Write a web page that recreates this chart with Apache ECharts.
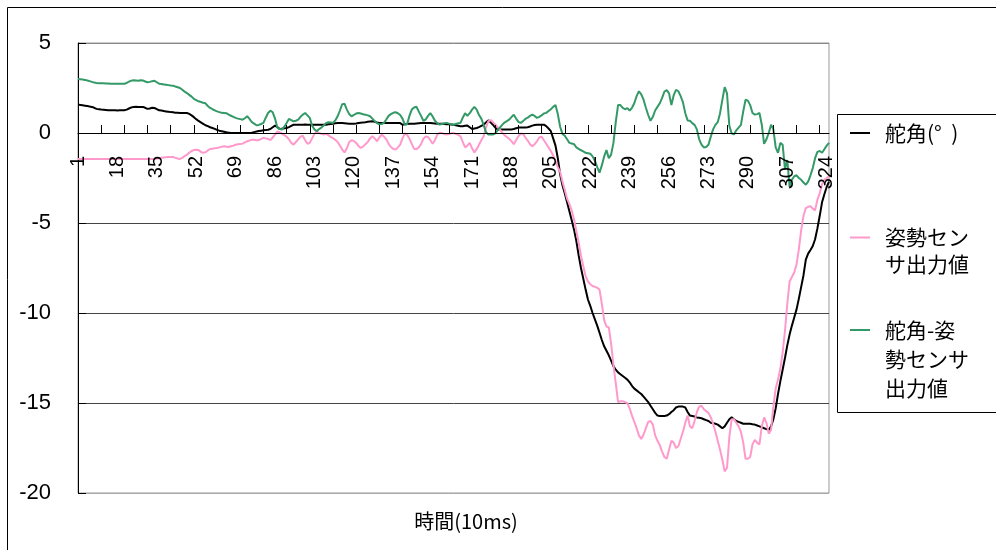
<!DOCTYPE html>
<html><head><meta charset="utf-8">
<script src="https://cdn.jsdelivr.net/npm/echarts@6/dist/echarts.min.js"></script>
<style>html,body{margin:0;padding:0;background:#fff}#c{width:996px;height:550px}</style>
</head><body><div id="c"></div>
<script>
// categories: sample number 1..325 (time axis, unit 10ms)
const categories = Array.from({length: 325}, (_, i) => String(i + 1));
const seriesNames = ['舵角(°  )', '姿勢センサ出力値', '舵角-姿勢センサ出力値'];
const legendLabels = ['舵角(°  )', '姿勢セン\nサ出力値', '舵角-姿\n勢センサ\n出力値'];
const yTicks = [-20, -15, -10, -5, 0, 5];
const xAxisTitle = '時間(10ms)';

const rudder = [
1.58,1.56,1.54,1.52,1.50,1.47,1.45,1.40,1.34,1.32,
1.30,1.29,1.28,1.27,1.26,1.26,1.26,1.25,1.26,1.26,
1.26,1.30,1.36,1.42,1.45,1.46,1.44,1.45,1.45,1.40,
1.34,1.36,1.40,1.39,1.33,1.26,1.25,1.22,1.20,1.18,
1.16,1.15,1.13,1.12,1.11,1.11,1.11,1.11,1.06,0.98,
0.88,0.77,0.67,0.59,0.51,0.43,0.38,0.32,0.28,0.23,
0.17,0.13,0.10,0.07,0.04,0.02,0,0,0,0,
0,0,0,0,0,0.02,0.05,0.08,0.11,0.13,
0.15,0.16,0.18,0.22,0.32,0.41,0.33,0.22,0.24,0.26,
0.28,0.33,0.40,0.46,0.46,0.46,0.46,0.46,0.47,0.46,
0.46,0.46,0.46,0.46,0.46,0.46,0.46,0.46,0.48,0.50,
0.52,0.54,0.55,0.56,0.55,0.54,0.53,0.52,0.52,0.52,
0.53,0.55,0.57,0.59,0.60,0.62,0.64,0.65,0.62,0.58,
0.56,0.56,0.56,0.56,0.56,0.56,0.56,0.56,0.56,0.55,
0.46,0.48,0.50,0.52,0.52,0.52,0.53,0.54,0.55,0.56,
0.56,0.56,0.55,0.54,0.53,0.52,0.52,0.51,0.50,0.49,
0.48,0.47,0.46,0.43,0.40,0.37,0.38,0.40,0.41,0.32,
0.22,0.25,0.28,0.33,0.40,0.46,0.58,0.70,0.60,0.46,
0.30,0.19,0.19,0.19,0.19,0.19,0.19,0.20,0.22,0.26,
0.30,0.30,0.30,0.30,0.32,0.36,0.41,0.44,0.46,0.46,
0.46,0.46,0.38,0.25,0.10,-0.30,-0.70,-1.40,-2.30,-2.90,
-3.35,-3.85,-4.35,-4.85,-5.37,-6.0,-6.8,-7.5,-8.1,-8.7,
-9.25,-9.6,-10.0,-10.35,-10.7,-11.1,-11.5,-11.85,-12.1,-12.35,
-12.65,-12.95,-13.15,-13.3,-13.4,-13.5,-13.6,-13.7,-13.85,-14.05,
-14.2,-14.3,-14.4,-14.5,-14.65,-14.8,-14.95,-15.15,-15.35,-15.55,
-15.7,-15.72,-15.72,-15.72,-15.7,-15.62,-15.5,-15.4,-15.25,-15.2,
-15.2,-15.2,-15.25,-15.5,-15.7,-15.72,-15.75,-15.8,-15.82,-15.85,
-15.9,-15.95,-16.0,-16.1,-16.12,-16.15,-16.2,-16.3,-16.4,-16.3,
-16.1,-15.9,-15.8,-15.9,-16.0,-16.05,-16.1,-16.15,-16.15,-16.15,
-16.15,-16.18,-16.2,-16.25,-16.3,-16.35,-16.4,-16.45,-16.5,-16.3,
-15.9,-15.3,-14.5,-13.8,-13.15,-12.5,-11.8,-11.2,-10.7,-10.25,
-9.8,-9.2,-8.55,-7.9,-7.04,-6.7,-6.5,-6.28,-5.9,-5.3,
-4.6,-3.85,-3.4,-3.0,-2.7
];

const sensor = [
-1.44,-1.44,-1.44,-1.44,-1.44,-1.44,-1.44,-1.44,-1.44,-1.44,
-1.44,-1.44,-1.44,-1.44,-1.44,-1.44,-1.44,-1.44,-1.44,-1.44,
-1.44,-1.44,-1.44,-1.44,-1.44,-1.44,-1.44,-1.44,-1.44,-1.44,
-1.44,-1.44,-1.44,-1.44,-1.42,-1.40,-1.38,-1.36,-1.35,-1.34,
-1.33,-1.33,-1.38,-1.42,-1.44,-1.38,-1.28,-1.20,-1.10,-1.00,
-0.95,-0.93,-0.95,-1.05,-1.10,-1.07,-0.97,-0.89,-0.87,-0.85,
-0.83,-0.80,-0.76,-0.74,-0.76,-0.78,-0.74,-0.70,-0.65,-0.63,
-0.61,-0.59,-0.52,-0.46,-0.42,-0.38,-0.37,-0.40,-0.40,-0.33,
-0.27,-0.30,-0.33,-0.40,-0.25,-0.09,0.08,0.04,-0.04,-0.12,
-0.20,-0.35,-0.55,-0.65,-0.50,-0.35,-0.20,-0.15,-0.40,-0.60,
-0.55,-0.30,-0.05,0.08,0.00,-0.05,-0.08,-0.05,-0.12,-0.22,
-0.28,-0.38,-0.50,-0.70,-0.92,-1.08,-0.85,-0.50,-0.40,-0.44,
-0.55,-0.72,-0.83,-0.75,-0.62,-0.50,-0.30,-0.18,-0.30,-0.46,
-0.25,-0.09,-0.20,-0.35,-0.60,-0.78,-0.88,-0.92,-0.80,-0.65,
-0.30,-0.02,-0.10,-0.32,-0.60,-0.88,-0.90,-0.80,-0.62,-0.32,
-0.20,-0.22,-0.40,-0.60,-0.40,-0.09,0.02,0.00,-0.06,-0.09,
-0.06,-0.02,0.00,-0.05,-0.10,-0.18,-0.50,-0.80,-0.70,-0.55,
-0.85,-1.08,-0.90,-0.65,-0.40,-0.18,0.30,0.65,0.72,0.60,
0.48,0.33,0.20,0.02,-0.12,-0.22,-0.32,-0.45,-0.62,-0.40,
-0.18,-0.03,-0.05,-0.25,-0.42,-0.62,-0.74,-0.62,-0.46,-0.25,
-0.20,-0.40,-0.60,-0.80,-1.00,-1.25,-1.55,-1.90,-2.15,-2.70,
-3.15,-3.65,-3.95,-4.30,-4.80,-5.45,-6.10,-6.80,-7.40,-7.95,
-8.25,-8.40,-8.50,-8.55,-8.60,-8.70,-9.50,-10.40,-10.75,-10.80,
-11.70,-12.90,-13.90,-14.95,-14.90,-14.90,-14.95,-15.00,-15.30,-15.70,
-16.05,-16.40,-16.80,-17.00,-16.75,-16.40,-16.05,-16.00,-16.20,-16.80,
-17.10,-17.35,-17.70,-18.00,-18.10,-17.60,-17.10,-17.20,-17.50,-17.40,
-17.00,-16.60,-16.10,-15.70,-16.30,-16.40,-16.00,-15.50,-15.20,-15.15,
-15.35,-15.45,-15.55,-15.80,-16.15,-16.60,-17.10,-17.60,-18.15,-18.80,
-18.60,-16.90,-15.90,-15.90,-16.10,-16.30,-16.60,-17.20,-18.10,-18.10,
-18.00,-17.30,-17.05,-17.20,-17.30,-16.30,-15.80,-16.10,-16.70,-16.50,
-15.20,-14.20,-13.70,-13.10,-12.20,-11.00,-9.50,-8.25,-8.00,-7.75,
-7.30,-6.45,-5.40,-4.60,-4.17,-4.10,-4.07,-4.20,-4.30,-3.70,
-3.35,-2.85,-2.60,-2.50,-2.40
];

const diff = [
3.00,2.99,2.97,2.95,2.92,2.88,2.84,2.80,2.78,2.77,
2.76,2.76,2.75,2.75,2.74,2.74,2.74,2.73,2.74,2.74,
2.74,2.78,2.85,2.91,2.93,2.92,2.90,2.93,2.92,2.86,
2.82,2.84,2.88,2.90,2.82,2.74,2.72,2.70,2.68,2.66,
2.64,2.63,2.58,2.54,2.50,2.40,2.30,2.22,2.12,2.02,
1.90,1.83,1.76,1.72,1.68,1.65,1.50,1.39,1.32,1.26,
1.20,1.16,1.12,1.11,1.10,1.02,0.96,0.90,0.84,0.80,
0.77,0.74,0.82,0.93,0.78,0.60,0.52,0.43,0.45,0.50,
0.56,0.85,1.11,1.24,1.15,0.80,0.30,0.22,0.19,0.35,
0.56,0.78,0.72,0.65,0.68,0.74,0.90,1.02,1.11,0.98,
0.84,0.40,0.20,0.10,0.22,0.30,0.42,0.55,0.60,0.58,
0.56,0.70,0.93,1.25,1.60,1.62,1.30,1.05,0.93,1.00,
1.08,1.11,1.08,1.04,1.02,0.98,0.93,0.80,0.66,0.55,
0.48,0.50,0.56,0.75,0.95,1.05,1.12,1.15,1.10,1.00,
0.80,0.45,0.50,0.95,1.30,1.42,1.46,1.20,0.95,0.68,
0.75,0.95,1.10,0.92,0.68,0.55,0.47,0.50,0.54,0.56,
0.52,0.48,0.46,0.50,0.54,0.56,0.85,1.10,0.95,1.10,
1.30,1.45,1.30,1.00,0.80,0.45,0.05,-0.08,-0.09,-0.09,
-0.02,0.15,0.30,0.45,0.58,0.66,0.74,0.88,1.02,0.80,
0.62,0.56,0.66,0.78,0.85,0.95,1.02,0.95,0.84,0.90,
0.98,1.08,1.12,1.22,1.32,1.45,1.55,1.05,0.35,-0.05,
-0.15,-0.35,-0.55,-0.58,-0.62,-0.80,-0.88,-0.96,-1.02,-1.10,
-1.12,-1.15,-1.30,-1.55,-1.90,-2.20,-1.80,-1.30,-0.95,-1.40,
-1.20,-0.55,0.60,1.55,1.55,1.40,1.32,1.38,1.25,1.40,
1.65,2.05,2.32,2.15,1.85,1.40,1.00,0.68,0.90,1.25,
1.45,1.65,1.95,2.30,2.38,2.20,1.55,2.10,2.40,2.32,
2.05,1.70,1.10,0.70,0.68,0.55,0.45,0.20,-0.35,-0.65,
-0.80,-0.78,-0.65,-0.20,0.20,0.45,0.60,1.10,1.85,2.55,
2.20,0.40,-0.02,-0.08,0.15,0.30,0.45,1.20,1.85,1.80,
1.55,1.11,1.02,1.05,1.11,0.46,-0.60,-0.35,0.00,0.46,
0.20,-0.80,-1.10,-0.55,-0.65,-2.00,-1.50,-3.00,-2.60,-2.40,
-2.35,-2.50,-2.60,-2.75,-2.87,-2.70,-2.35,-1.95,-1.40,-1.05,
-1.00,-1.10,-0.90,-0.70,-0.55
];

const colors = ['#000000', '#FF99CC', '#339966'];
const seriesData = [rudder, sensor, diff];

const chart = echarts.init(document.getElementById('c'), null, {renderer: 'canvas'});

function legendIcon(h, lineY) {
  return 'path://M0,' + lineY + 'H20V' + (lineY + 2) + 'H0Z M0,0H0.01V0.01H0Z M29.99,' + (h - 0.01) + 'H30V' + h + 'H29.99Z';
}
const legendTops = [119.5, 224, 315.5];
const legendLineH = [27, 27, 29];
const legendLines = [1, 2, 3];

const legends = seriesNames.map((name, k) => {
  const lh = legendLineH[k];
  const h = lh * legendLines[k];
  return {
    data: [name],
    left: 850,
    top: legendTops[k],
    padding: 0,
    orient: 'vertical',
    itemWidth: 30,
    itemHeight: h,
    icon: legendIcon(h, lh / 2 - 1),
    itemStyle: {color: colors[k], borderWidth: 0},
    formatter: () => legendLabels[k],
    selectedMode: false,
    textStyle: {
      fontFamily: '"Noto Sans CJK JP", sans-serif',
      fontSize: 21,
      lineHeight: lh,
      color: '#000'
    }
  };
});

const gridTop = 43, gridHeight = 450;
const yMin = yTicks[0], yMax = yTicks[yTicks.length - 1];

chart.setOption({
  animation: false,
  backgroundColor: '#fff',
  grid: {left: 78, top: gridTop, width: 751, height: gridHeight, show: true, borderColor: '#999', borderWidth: 1},
  legend: legends,
  xAxis: {
    type: 'category',
    data: categories,
    boundaryGap: false,
    position: 'bottom',
    // place the category axis on the zero line of the value axis
    offset: -gridHeight * (0 - yMin) / (yMax - yMin),
    axisLine: {onZero: false, lineStyle: {color: '#000', width: 1}},
    axisTick: {show: true, inside: true, length: 8, interval: 9, lineStyle: {color: '#000', width: 1}},
    axisLabel: {
      rotate: 90, margin: 23, interval: 16,
      fontFamily: '"Liberation Sans", sans-serif', fontSize: 20, color: '#000'
    },
    splitLine: {show: false},
    z: 5
  },
  yAxis: {
    type: 'value',
    min: yMin, max: yMax, interval: 5,
    axisLine: {show: true, lineStyle: {color: '#000'}},
    axisTick: {show: true, inside: true, length: 8, lineStyle: {color: '#000'}},
    axisLabel: {margin: 27, fontFamily: '"Liberation Sans", sans-serif', fontSize: 22, color: '#000'},
    splitLine: {show: true, lineStyle: {color: ['#aaaaaa', '#444', '#444', '#444', '#444', '#888'], width: 1}}
  },
  series: seriesNames.map((name, k) => ({
    name: name,
    type: 'line',
    data: seriesData[k],
    showSymbol: false,
    symbol: 'none',
    smooth: false,
    color: colors[k],
    lineStyle: {color: colors[k], width: 2},
    emphasis: {disabled: true}
  })),
  graphic: [
    {type: 'rect', shape: {x: 7.5, y: 7.5, width: 1200, height: 1000}, style: {fill: 'none', stroke: '#000', lineWidth: 1}, silent: true, z: -1},
    {type: 'rect', shape: {x: 837.5, y: 114.5, width: 300, height: 298}, style: {fill: 'none', stroke: '#000', lineWidth: 1}, silent: true},
    {type: 'text', x: 466, y: 521, style: {text: xAxisTitle, textAlign: 'center', textVerticalAlign: 'middle', font: '20px "Noto Sans CJK JP", sans-serif', fill: '#000'}}
  ]
});
</script>
</body></html>
